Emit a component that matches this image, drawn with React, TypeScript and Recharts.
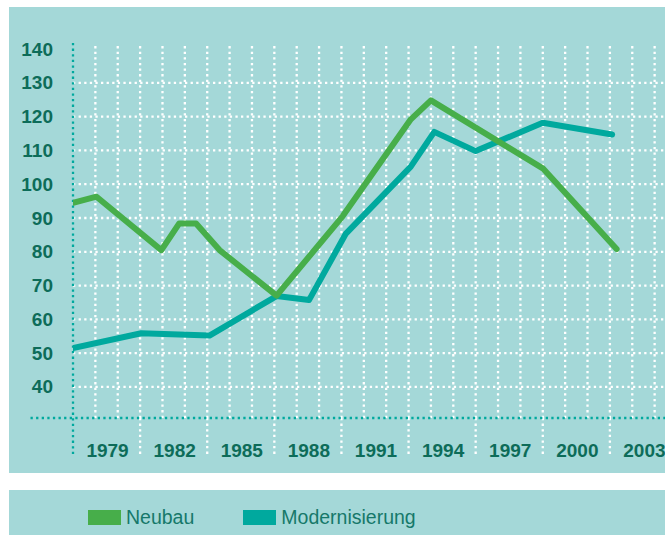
import React from 'react';
import { LineChart, Line, XAxis, YAxis, ReferenceLine } from 'recharts';

const neubauYears = [1977.5, 1978.55, 1981.45, 1982.25, 1983.0, 1984.05, 1986.6, 1989.55, 1992.6, 1993.5, 1998.5, 2001.8];
const neubauValues = [94.5, 96.3, 80.5, 88.4, 88.4, 80.5, 67.0, 90.5, 119.2, 124.8, 104.7, 80.8];
const modYears = [1977.5, 1980.55, 1983.6, 1986.6, 1988.05, 1989.7, 1992.6, 1993.65, 1995.5, 1998.5, 2001.6];
const modValues = [51.5, 55.9, 55.2, 66.9, 65.7, 85.4, 105.2, 115.5, 109.8, 118.2, 114.7];

const xTickYears = [1979, 1982, 1985, 1988, 1991, 1994, 1997, 2000, 2003];
const yTicks = [40, 50, 60, 70, 80, 90, 100, 110, 120, 130, 140];
const yGridValues = [40, 50, 60, 70, 80, 90, 100, 110, 120, 130];
const xGridYears = [1978.5, 1979.5, 1980.5, 1981.5, 1982.5, 1983.5, 1984.5, 1985.5, 1986.5, 1987.5, 1988.5, 1989.5, 1990.5, 1991.5, 1992.5, 1993.5, 1994.5, 1995.5, 1996.5, 1997.5, 1998.5, 1999.5, 2000.5, 2001.5, 2002.5, 2003.5];
const dividerYears = [1980.5, 1983.5, 1986.5, 1989.5, 1992.5, 1995.5, 1998.5, 2001.5];

const X_MIN = 1977.5;
const X_MAX = 2004.5;
const Y_MIN = 30.8;
const Y_MAX = 141.8;
const BELOW_AXIS = 19.25;
const AXIS_LEFT_START = 1975.6;

const neubauData = neubauYears.map((year, i) => ({ year, value: neubauValues[i] }));
const modData = modYears.map((year, i) => ({ year, value: modValues[i] }));

const BG = '#a4d8d8';
const GREEN = '#47ae4a';
const TEAL = '#00a99e';
const TEXT = '#0d6c59';
const LEGEND_TEXT = '#16786a';
const FONT = '"Liberation Sans", Arial, sans-serif';

const dotted = { stroke: '#ffffff', strokeWidth: 2.3, strokeDasharray: '2.3 3.3' };
const tealDotted = { stroke: TEAL, strokeWidth: 2.3, strokeDasharray: '2.3 3.3' };

const YTick = (props: any) => (
  <text x={props.x} y={props.y} textAnchor="end" dominantBaseline="central" fill={TEXT}
    style={{ fontFamily: FONT, fontWeight: 700, fontSize: 19 }}>
    {props.payload.value}
  </text>
);

const XTick = (props: any) => (
  <text x={props.x + 1} y={props.y + 32} textAnchor="middle" dominantBaseline="central" fill={TEXT}
    style={{ fontFamily: FONT, fontWeight: 700, fontSize: 19 }}>
    {props.payload.value}
  </text>
);

export default function App() {
  return (
    <div style={{ position: 'fixed', left: 0, top: 0, width: 665, height: 535, overflow: 'hidden', background: '#ffffff' }}>
      <div style={{ position: 'absolute', left: 9, top: 7, width: 656, height: 466, background: BG }} />
      <div style={{ position: 'absolute', left: 9, top: 490, width: 656, height: 45, background: BG }} />
      <div style={{ position: 'absolute', left: 0, top: 0 }}>
        <LineChart width={700} height={480} margin={{ top: 43, right: 23, bottom: 0, left: 0 }}>
          <XAxis dataKey="year" type="number" domain={[X_MIN, X_MAX]} allowDataOverflow ticks={xTickYears}
            tick={<XTick />} tickLine={false} axisLine={false} tickSize={0} tickMargin={0} height={62} interval={0} />
          <YAxis type="number" domain={[Y_MIN, Y_MAX]} allowDataOverflow ticks={yTicks}
            tick={<YTick />} tickLine={false} axisLine={false} tickSize={0} tickMargin={20} width={73} interval={0} />
          {xGridYears.map((yr) => (
            <ReferenceLine key={'vx' + yr} x={yr} {...dotted} />
          ))}
          {yGridValues.map((v) => (
            <ReferenceLine key={'hy' + v} y={v} {...dotted} />
          ))}
          {dividerYears.map((yr) => (
            <ReferenceLine key={'dv' + yr} ifOverflow="visible"
              segment={[{ x: yr, y: Y_MIN }, { x: yr, y: BELOW_AXIS }]} {...dotted} />
          ))}
          <ReferenceLine ifOverflow="visible"
            segment={[{ x: AXIS_LEFT_START, y: Y_MIN }, { x: X_MAX, y: Y_MIN }]} {...tealDotted} />
          <ReferenceLine ifOverflow="visible"
            segment={[{ x: X_MIN, y: Y_MAX }, { x: X_MIN, y: BELOW_AXIS }]} {...tealDotted} />
          <Line data={modData} dataKey="value" type="linear" stroke={TEAL} strokeWidth={6} dot={false}
            strokeLinejoin="round" strokeLinecap="round" isAnimationActive={false} />
          <Line data={neubauData} dataKey="value" type="linear" stroke={GREEN} strokeWidth={6} dot={false}
            strokeLinejoin="round" strokeLinecap="round" isAnimationActive={false} />
        </LineChart>
      </div>
      <div style={{ position: 'absolute', left: 88, top: 507.5, height: 19, display: 'flex', alignItems: 'center',
        fontFamily: FONT, fontSize: 19.5, lineHeight: '19px', color: LEGEND_TEXT }}>
        <span style={{ display: 'inline-block', width: 33, height: 15, background: GREEN, marginRight: 5 }} />
        <span>Neubau</span>
        <span style={{ display: 'inline-block', width: 33, height: 15, background: TEAL, marginLeft: 49, marginRight: 5 }} />
        <span>Modernisierung</span>
      </div>
    </div>
  );
}
